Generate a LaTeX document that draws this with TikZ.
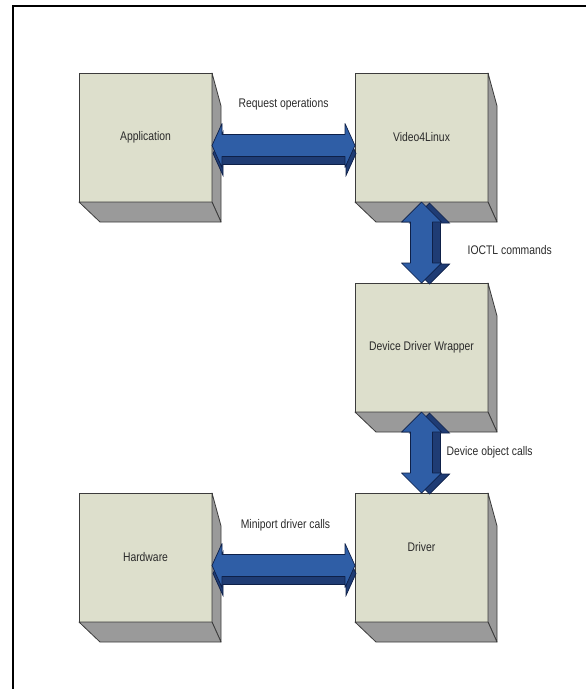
\documentclass[tikz,border=0pt]{standalone}
\usepackage{fontspec}
\setmainfont{Liberation Sans}[FakeStretch=0.83]
\usetikzlibrary{positioning}

\definecolor{boxfront}{HTML}{DDDFCC}
\definecolor{boxside}{HTML}{9A9A9A}
\definecolor{boxline}{HTML}{3C3C3C}
\definecolor{arrowblue}{HTML}{2F5EA6}
\definecolor{arrowdark}{HTML}{1F3C74}
\definecolor{arrowline}{HTML}{0E2048}
\definecolor{textgray}{HTML}{2A2A2A}

\begin{document}
\begin{tikzpicture}
[x=1pt, y=1pt, font=\fontsize{12.5}{14}\selectfont, text=textgray,
% STYLES
% The block style is used to draw the front face of each layer
block/.style={rectangle, draw=boxline, line width=0.8pt, fill=boxfront, minimum width=133pt, minimum height=129pt, inner sep=0pt, outer sep=0pt},
% The face style is used to draw the grey sides of the blocks
face/.style={draw=boxline, line width=0.8pt, fill=boxside, line join=round},
% The link style is used to draw the blue block arrows
link/.style={draw=arrowline, line width=0.7pt, fill=arrowblue, line join=round},
hlink/.style={link, preaction={draw=arrowline, fill=arrowdark, line width=0.7pt, transform canvas={shift={(1pt,-8pt)}}}},
vlink/.style={link, preaction={draw=arrowline, fill=arrowdark, line width=0.7pt, transform canvas={shift={(8pt,-1pt)}}}},
% The comment style is used to write the name of each link
comment/.style={inner sep=0pt}]

\useasboundingbox (0,0) rectangle (586,-689);
\draw[line width=2.2pt] (13,-689) -- (13,-6) -- (586,-6);

% Draw blocks
\node[block] (app) at (145.5,-137.5) {Application};
\node[block, right=143pt of app] (v4l) {Video4Linux};
\node[block, below=81pt of v4l] (ddw) {Device Driver Wrapper};
\node[block, below=81pt of ddw, label={[yshift=10pt]center:Driver}] (drv) {};
\node[block, left=143pt of drv] (hw) {Hardware};

% Draw the sides of the blocks
\foreach \b in {app,v4l,ddw,drv,hw} {
  \draw[face] (\b.north east) -- ++(9,-33) -- ([shift={(9,-20)}]\b.south east) -- (\b.south east) -- cycle;
  \draw[face] (\b.south west) -- (\b.south east) -- ([shift={(9,-20)}]\b.south east) -- ([shift={(21,-20)}]\b.south west) -- cycle;
}

% Draw the links between blocks
\coordinate (reqa) at ([yshift=-8pt]app.east);
\coordinate (reqb) at ([yshift=-8pt]v4l.west);
\draw[hlink] (reqa) -- ++(10,22) -- ++(0,-11) -- ([shift={(-10,11)}]reqb) -- ++(0,11) -- (reqb) -- ++(-10,-22) -- ++(0,11) -- ([shift={(10,-11)}]reqa) -- ++(0,-11) -- cycle;

\draw[vlink] (v4l.south) -- ++(20,-20) -- ++(-9,0) -- ([shift={(11,20)}]ddw.north) -- ++(9,0) -- (ddw.north) -- ++(-20,20) -- ++(9,0) -- ([shift={(-11,-20)}]v4l.south) -- ++(-9,0) -- cycle;

\draw[vlink] (ddw.south) -- ++(20,-20) -- ++(-9,0) -- ([shift={(11,20)}]drv.north) -- ++(9,0) -- (drv.north) -- ++(-20,20) -- ++(9,0) -- ([shift={(-11,-20)}]ddw.south) -- ++(-9,0) -- cycle;

\coordinate (mpa) at ([yshift=-8pt]hw.east);
\coordinate (mpb) at ([yshift=-8pt]drv.west);
\draw[hlink] (mpa) -- ++(10,22) -- ++(0,-11) -- ([shift={(-10,11)}]mpb) -- ++(0,11) -- (mpb) -- ++(-10,-22) -- ++(0,11) -- ([shift={(10,-11)}]mpa) -- ++(0,-11) -- cycle;

% Names of the links
\path (reqa) -- (reqb) node[comment, midway, yshift=41pt] (reqlabel) {Request operations};
\path (v4l.south) -- (ddw.north) node[comment, midway, anchor=west, xshift=46pt, yshift=-8pt] (ioctllabel) {IOCTL commands};
\path (ddw.south) -- (drv.north) node[comment, midway, anchor=west, xshift=25pt] (objlabel) {Device object calls};
\path (mpa) -- (mpb) node[comment, midway, xshift=2pt, yshift=40pt] (mplabel) {Miniport driver calls};

\end{tikzpicture}
\end{document}
